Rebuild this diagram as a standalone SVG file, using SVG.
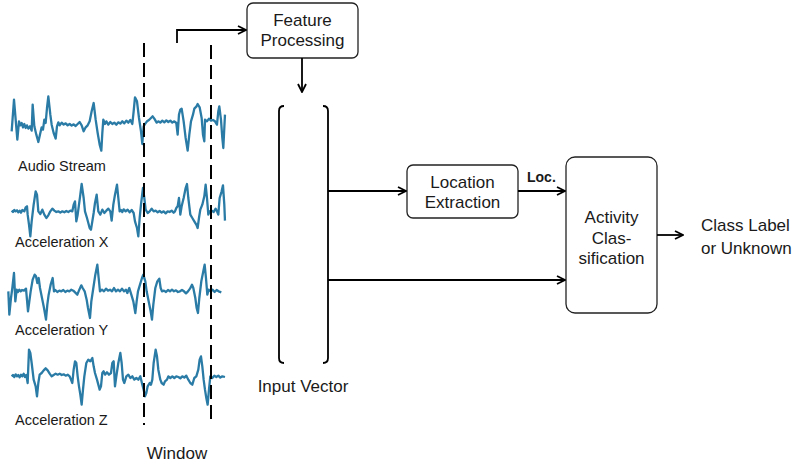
<svg xmlns="http://www.w3.org/2000/svg" width="792" height="464" viewBox="0 0 792 464">
<defs>
<style>
.lbl{font-family:"Liberation Sans",Arial,sans-serif;font-size:17px;fill:#1a1a1a}
.sig{font-family:"Liberation Sans",Arial,sans-serif;font-size:14.5px;fill:#1a1a1a}
.box{fill:#fff;stroke:#222;stroke-width:1.3}
.conn{fill:none;stroke:#000;stroke-width:1.8}
.wave{fill:none;stroke:#2a7ba5;stroke-width:2.3;stroke-linejoin:round;vector-effect:non-scaling-stroke}
.dash{fill:none;stroke:#000;stroke-width:2;stroke-dasharray:14,6}
</style>
<marker id="arr" viewBox="0 0 10 10" refX="9" refY="5" markerWidth="10" markerHeight="10" markerUnits="userSpaceOnUse" orient="auto">
<path d="M1,1 L9,5 L1,9" fill="none" stroke="#000" stroke-width="1.8"/>
</marker>
</defs>
<rect width="792" height="464" fill="#fff"/>

<g id="signals">
<path class="wave" transform="translate(5,88) scale(0.3333)" d="M20,130 L27,35 L37,155 L42,100 L46,112 L50,105 L54,118 L58,108 L62,120 L66,112 L70,122 L75,115 L80,128 L83,50 L88,115 L94,140 L100,162 L106,135 L110,118 L114,125 L118,95 L122,105 L126,60 L130,25 L136,80 L140,110 L146,135 L152,152 L156,115 L160,103 L164,112 L170,104 L176,110 L182,106 L188,112 L194,108 L200,113 L206,109 L212,114 L218,108 L224,102 L230,112 L236,130 L242,118 L248,112 L254,100 L260,70 L266,45 L272,95 L278,135 L284,170 L289,188 L292,135 L295,95 L300,108 L304,100 L310,110 L316,102 L322,108 L328,104 L334,110 L340,103 L346,107 L352,100 L358,106 L364,98 L370,104 L376,96 L382,108 L386,70 L390,28 L396,40 L402,90 L408,130 L412,168 L416,115 L420,108 L426,100 L432,96 L438,90 L443,85 L448,92 L455,104 L460,100 L466,104 L472,98 L478,103 L484,97 L490,102 L496,98 L502,104 L508,100 L514,105 L518,140 L522,80 L526,65 L530,62 L536,100 L542,150 L548,188 L553,140 L558,100 L564,80 L568,62 L574,56 L578,48 L584,58 L590,90 L594,140 L598,160 L600,95 L606,100 L612,92 L618,98 L624,96 L630,100 L636,110 L640,70 L643,55 L648,95 L652,150 L655,180 L658,120 L660,80"/>
<path class="wave" transform="translate(5,178) scale(0.3333)" d="M20,98 L24,102 L28,96 L32,100 L36,97 L40,103 L44,98 L48,104 L52,96 L58,100 L62,88 L66,85 L68,110 L72,140 L76,175 L80,130 L86,80 L92,40 L96,50 L100,100 L106,108 L112,95 L118,110 L124,120 L130,112 L136,100 L142,92 L148,98 L154,102 L160,100 L166,104 L172,100 L178,103 L184,99 L190,102 L196,98 L202,100 L206,80 L210,70 L214,130 L218,110 L222,80 L226,50 L230,18 L236,60 L240,100 L246,120 L250,135 L254,150 L258,155 L262,130 L266,105 L270,75 L275,50 L280,100 L286,110 L292,95 L298,105 L304,98 L310,92 L316,100 L320,128 L325,80 L330,50 L336,20 L340,60 L344,100 L348,96 L352,102 L356,94 L362,100 L368,95 L374,103 L380,96 L386,105 L390,130 L396,150 L400,175 L404,120 L408,80 L414,30 L418,60 L422,95 L428,105 L434,100 L440,92 L446,100 L452,98 L458,103 L464,99 L470,104 L476,100 L482,106 L488,100 L494,102 L500,98 L506,104 L510,100 L514,90 L518,85 L522,60 L526,110 L530,85 L536,60 L542,30 L546,18 L550,60 L556,110 L562,120 L568,130 L574,140 L578,150 L582,120 L586,95 L592,80 L598,55 L602,20 L606,60 L610,110 L614,100 L620,98 L626,102 L632,92 L636,100 L640,110 L644,60 L650,40 L654,22 L658,80 L660,128"/>
<path class="wave" transform="translate(0,258) scale(0.3333)" d="M25,100 L28,170 L33,120 L37,90 L42,45 L46,130 L50,95 L54,102 L58,95 L62,100 L66,96 L72,98 L78,92 L84,160 L88,130 L92,100 L98,65 L104,50 L108,55 L112,75 L116,60 L120,90 L126,120 L132,150 L138,185 L142,140 L146,110 L152,80 L158,60 L162,100 L166,96 L172,102 L178,98 L184,100 L190,96 L196,102 L202,98 L208,100 L214,95 L220,98 L226,104 L232,110 L238,95 L244,82 L248,90 L254,100 L260,125 L264,150 L270,180 L274,130 L280,90 L286,50 L292,20 L296,60 L300,100 L306,95 L312,100 L318,92 L324,98 L330,95 L336,100 L342,90 L348,100 L354,95 L360,100 L366,92 L372,100 L378,95 L382,105 L388,90 L394,110 L400,130 L406,165 L410,130 L414,100 L420,80 L426,60 L430,50 L436,70 L440,100 L446,130 L452,160 L456,185 L460,140 L466,90 L472,70 L478,62 L482,90 L486,100 L492,98 L498,102 L504,96 L510,100 L516,95 L522,100 L528,97 L534,102 L540,100 L546,96 L552,100 L558,106 L564,100 L570,92 L576,80 L580,90 L586,120 L590,150 L594,165 L598,120 L604,70 L610,40 L614,20 L618,60 L622,110 L626,95 L632,100 L638,95 L644,102 L650,96 L656,100 L664,103"/>
<path class="wave" transform="translate(5,343) scale(0.3333)" d="M20,100 L24,96 L28,102 L32,94 L36,100 L40,96 L44,103 L48,95 L52,100 L56,92 L60,102 L64,96 L68,120 L72,20 L76,30 L80,60 L86,110 L92,130 L96,160 L100,120 L104,95 L110,90 L116,82 L122,76 L128,82 L134,92 L140,100 L146,96 L152,92 L158,95 L164,92 L170,96 L176,94 L182,98 L188,95 L194,100 L198,110 L202,120 L206,80 L210,55 L214,60 L218,100 L222,130 L226,155 L230,185 L234,140 L238,100 L244,60 L250,50 L256,55 L262,45 L266,70 L270,90 L276,110 L280,125 L284,140 L288,130 L292,90 L296,85 L300,95 L306,88 L312,95 L318,90 L322,60 L326,55 L330,130 L334,100 L340,60 L346,30 L350,60 L354,110 L358,120 L364,100 L370,95 L376,105 L382,100 L388,110 L394,105 L400,110 L406,100 L412,125 L416,140 L420,160 L424,150 L428,130 L434,120 L438,125 L442,110 L446,60 L452,20 L456,40 L460,80 L466,110 L470,120 L476,125 L480,115 L486,110 L490,100 L496,105 L502,100 L508,105 L514,100 L520,102 L526,106 L532,100 L538,104 L544,98 L550,110 L556,120 L562,125 L568,105 L574,100 L580,80 L584,50 L588,40 L592,70 L596,110 L600,140 L604,165 L608,185 L612,140 L616,100 L622,105 L628,98 L634,102 L640,98 L646,104 L652,100 L660,102"/>
<text class="sig" x="18" y="171">Audio Stream</text>
<text class="sig" x="15" y="247">Acceleration X</text>
<text class="sig" x="15" y="335">Acceleration Y</text>
<text class="sig" x="15" y="425">Acceleration Z</text>
</g>

<g id="window">
<line class="dash" x1="144" y1="43" x2="144" y2="425"/>
<line class="dash" x1="211" y1="45" x2="211" y2="425"/>
<text class="lbl" x="177" y="459" text-anchor="middle">Window</text>
</g>

<g id="feature-processing">
<rect class="box" x="247" y="3" width="111" height="55" rx="6"/>
<text class="lbl" x="302.5" y="25.5" text-anchor="middle">Feature</text>
<text class="lbl" x="302.5" y="45.5" text-anchor="middle">Processing</text>
</g>

<g id="input-vector">
<path fill="none" stroke="#000" stroke-width="1.8" d="M284,106 Q279,106 279,111 L279,358 Q279,363 284,363"/>
<path fill="none" stroke="#000" stroke-width="1.8" d="M323,106 Q328,106 328,111 L328,358 Q328,363 323,363"/>
<text class="lbl" x="303" y="392" text-anchor="middle">Input Vector</text>
</g>

<g id="location-extraction">
<rect class="box" x="407" y="165" width="111" height="53" rx="6"/>
<text class="lbl" x="462.5" y="187.5" text-anchor="middle">Location</text>
<text class="lbl" x="462.5" y="208" text-anchor="middle">Extraction</text>
</g>

<g id="activity-classification">
<rect class="box" x="566" y="157" width="91" height="156" rx="9"/>
<text class="lbl" x="611.5" y="222.5" text-anchor="middle">Activity</text>
<text class="lbl" x="611.5" y="243.5" text-anchor="middle">Clas-</text>
<text class="lbl" x="611.5" y="263.5" text-anchor="middle">sification</text>
</g>

<g id="output">
<text class="lbl" x="701" y="231">Class Label</text>
<text class="lbl" x="701" y="253.5">or Unknown</text>
</g>

<g id="connectors">
<path class="conn" d="M177,43 V30 H246" marker-end="url(#arr)"/>
<path class="conn" d="M302,58 V92" marker-end="url(#arr)"/>
<path class="conn" d="M328,191 H406" marker-end="url(#arr)"/>
<path class="conn" d="M518,191 H565" marker-end="url(#arr)"/>
<path class="conn" d="M328,280 H565" marker-end="url(#arr)"/>
<path class="conn" d="M657,235 H683" marker-end="url(#arr)"/>
<text x="527" y="182" style="font-family:'Liberation Sans',Arial,sans-serif;font-size:14px;font-weight:bold;fill:#1a1a1a">Loc.</text>
</g>
</svg>
